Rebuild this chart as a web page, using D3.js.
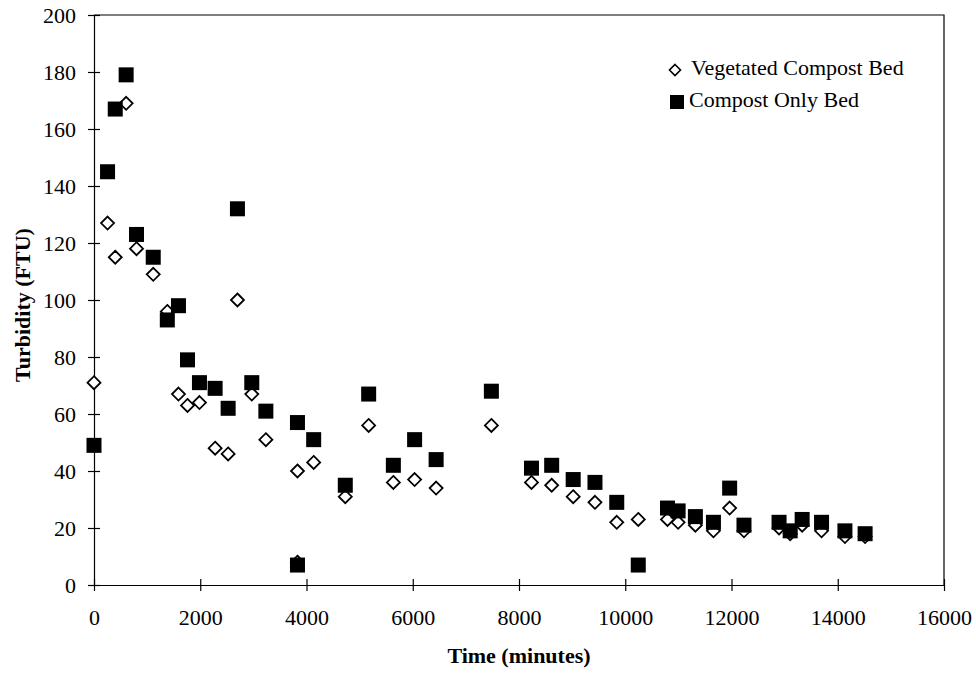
<!DOCTYPE html>
<html>
<head>
<meta charset="utf-8">
<script src="https://cdn.jsdelivr.net/npm/d3@7"></script>
<style>
  body { margin: 0; background: #fff; }
  text { font-family: "Liberation Serif", "Times New Roman", serif; fill: #000; }
</style>
</head>
<body>
<div id="chart"></div>
<script>
// time in minutes (shared by both beds)
const times = [0, 255, 400, 605, 800, 1115, 1380, 1590, 1760, 1985, 2280, 2525, 2700, 2970, 3235,
  3830, 3830, 4135, 4730, 5170, 5635, 6035, 6440, 7480, 8235, 8615, 9020, 9430, 9840, 10245,
  10795, 10995, 11320, 11660, 11965, 12235, 12895, 13105, 13330, 13695, 14135, 14515];

const vegetated = [71, 127, 115, 169, 118, 109, 96, 67, 63, 64, 48, 46, 100, 67, 51,
  40, 8, 43, 31, 56, 36, 37, 34, 56, 36, 35, 31, 29, 22, 23,
  23, 22, 21, 19, 27, 19, 20, 18, 21, 19, 17, 17];

const compostOnly = [49, 145, 167, 179, 123, 115, 93, 98, 79, 71, 69, 62, 132, 71, 61,
  57, 7, 51, 35, 67, 42, 51, 44, 68, 41, 42, 37, 36, 29, 7,
  27, 26, 24, 22, 34, 21, 22, 19, 23, 22, 19, 18];

const xTicks = [0, 2000, 4000, 6000, 8000, 10000, 12000, 14000, 16000];
const yTicks = [0, 20, 40, 60, 80, 100, 120, 140, 160, 180, 200];
const seriesNames = ["Vegetated Compost Bed", "Compost Only Bed"];

const width = 976, height = 675;
const margin = {top: 15, right: 32, bottom: 90, left: 94};

const svg = d3.select("#chart").append("svg")
    .attr("width", width)
    .attr("height", height);

const x = d3.scaleLinear().domain([0, 16000]).range([margin.left, width - margin.right]);
const y = d3.scaleLinear().domain([0, 200]).range([height - margin.bottom, margin.top]);

// frame (top and right)
svg.append("path")
    .attr("d", `M${x(0)},${y(200)}H${x(16000)}V${y(0)}`)
    .attr("fill", "none")
    .attr("stroke", "#000")
    .attr("stroke-width", 1.2);

const xAxis = svg.append("g")
    .attr("transform", `translate(0,${y(0)})`)
    .call(d3.axisBottom(x).tickValues(xTicks).tickFormat(d3.format("d")).tickSize(6).tickPadding(18).tickSizeOuter(0));

const yAxis = svg.append("g")
    .attr("transform", `translate(${x(0)},0)`)
    .call(d3.axisLeft(y).tickValues(yTicks).tickSize(6).tickPadding(12).tickSizeOuter(0));

// ticks cross the axis line
xAxis.selectAll(".tick line").attr("y1", -6).attr("y2", 6);
yAxis.selectAll(".tick line").attr("x1", -6).attr("x2", 6);

[xAxis, yAxis].forEach(a => {
  a.select(".domain").attr("stroke-width", 1.2);
  a.selectAll(".tick line").attr("stroke-width", 1.2);
  a.selectAll("text")
      .style("font-family", '"Liberation Serif", serif')
      .style("font-size", "22px");
});

svg.append("text")
    .attr("x", (x(0) + x(16000)) / 2)
    .attr("y", 663)
    .attr("text-anchor", "middle")
    .style("font-size", "22px")
    .style("font-weight", "bold")
    .text("Time (minutes)");

svg.append("text")
    .attr("transform", `translate(30,305) rotate(-90)`)
    .attr("text-anchor", "middle")
    .style("font-size", "22px")
    .style("font-weight", "bold")
    .text("Turbidity (FTU)");

const diamond = "M0,-6.5L6.5,0L0,6.5L-6.5,0Z";

// vegetated first, compost-only squares drawn on top
svg.append("g")
  .selectAll("path")
  .data(times.map((t, i) => [t, vegetated[i]]))
  .join("path")
    .attr("d", diamond)
    .attr("transform", d => `translate(${x(d[0])},${y(d[1])})`)
    .attr("fill", "#fff")
    .attr("stroke", "#000")
    .attr("stroke-width", 1.8);

svg.append("g")
  .selectAll("rect")
  .data(times.map((t, i) => [t, compostOnly[i]]))
  .join("rect")
    .attr("x", d => x(d[0]) - 7.5)
    .attr("y", d => y(d[1]) - 7.5)
    .attr("width", 15)
    .attr("height", 15)
    .attr("fill", "#000");

// legend
const legend = svg.append("g");
legend.append("path")
    .attr("d", "M0,-5.5L5.5,0L0,5.5L-5.5,0Z")
    .attr("transform", "translate(675,70)")
    .attr("fill", "#fff")
    .attr("stroke", "#000")
    .attr("stroke-width", 1.6);
legend.append("text")
    .attr("x", 691).attr("y", 75)
    .style("font-size", "22px")
    .text(seriesNames[0]);
legend.append("rect")
    .attr("x", 670).attr("y", 95)
    .attr("width", 14).attr("height", 14)
    .attr("fill", "#000");
legend.append("text")
    .attr("x", 689).attr("y", 107)
    .style("font-size", "22px")
    .text(seriesNames[1]);
</script>
</body>
</html>
